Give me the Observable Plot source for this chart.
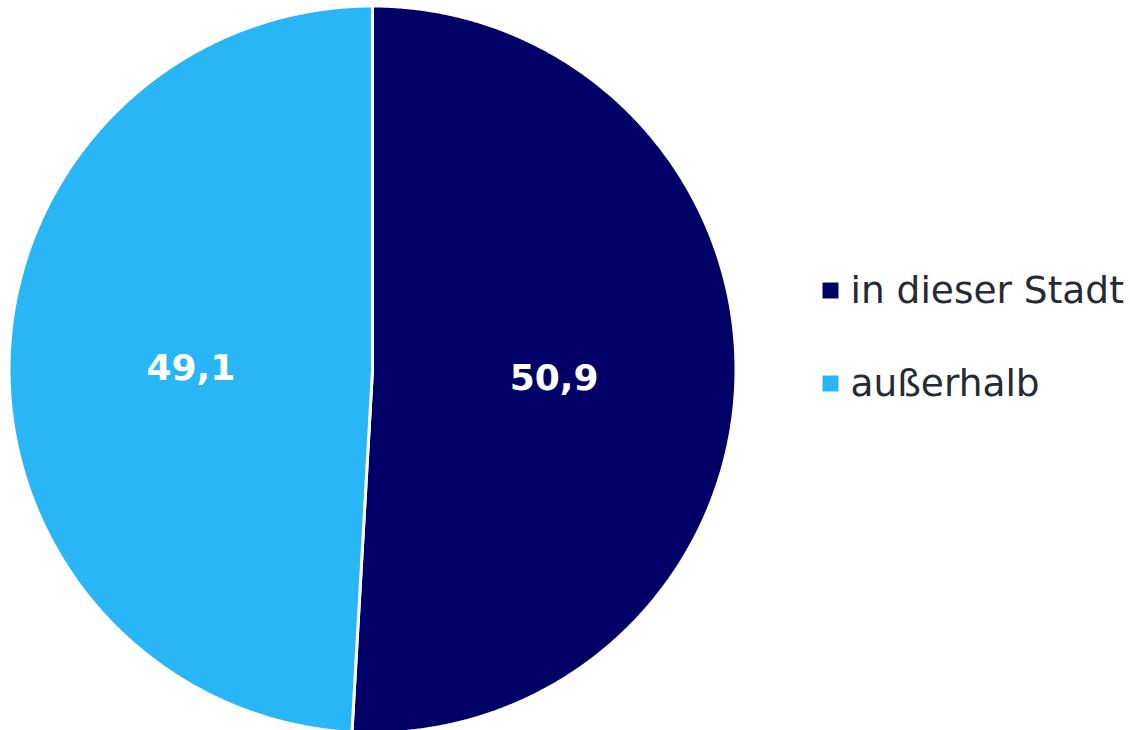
<!DOCTYPE html>
<html>
<head>
<meta charset="utf-8">
<script src="https://cdn.jsdelivr.net/npm/d3@7"></script>
<script src="https://cdn.jsdelivr.net/npm/@observablehq/plot@0.6"></script>
<style>
  html, body { margin: 0; padding: 0; background: #fff; }
  #chart svg { display: block; }
</style>
</head>
<body>
<div id="chart"></div>
<script>
// Data
const categories = ["in dieser Stadt", "außerhalb"];
const values = [50.9, 49.1];
const colors = ["#000066", "#29b6f6"];

// Layout constants (pixels)
const W = 1130, H = 730;
const CX = 372, CY = 369, R = 363.5;

// Pie geometry from data
const pie = d3.pie().sort(null).value(d => d.value).startAngle(0).endAngle(2 * Math.PI);
const arcs = pie(categories.map((c, i) => ({category: c, value: values[i]})));

// polygon points for each slice (angle clockwise from 12 o'clock)
const slicePts = [];
for (const a of arcs) {
  const cat = a.data.category;
  slicePts.push({category: cat, x: 0, y: 0});
  const n = Math.max(2, Math.ceil((a.endAngle - a.startAngle) / (Math.PI / 720)));
  for (let k = 0; k <= n; k++) {
    const t = a.startAngle + (a.endAngle - a.startAngle) * k / n;
    slicePts.push({category: cat, x: R * Math.sin(t), y: -R * Math.cos(t)});
  }
  slicePts.push({category: cat, x: 0, y: 0});
}

const labels = arcs.map(a => {
  const m = (a.startAngle + a.endAngle) / 2;
  return {
    category: a.data.category,
    text: a.data.value.toFixed(1).replace(".", ","),
    x: 0.5 * R * Math.sin(m),
    y: -0.5 * R * Math.cos(m)
  };
});

// legend rows
const legend = categories.map((c, i) => ({category: c, i}));
const LX = 830 - CX, LY0 = 290 - CY, LDY = 93, LTX = 850 - CX;

const chart = Plot.plot({
  width: W,
  height: H,
  margin: 0,
  x: {domain: [-CX, W - CX], range: [0, W], axis: null},
  y: {domain: [-CY, H - CY], range: [0, H], axis: null},
  color: {domain: categories, range: colors},
  style: {background: "#fff"},
  marks: [
    Plot.line(slicePts, {
      x: "x", y: "y", z: "category",
      fill: "category",
      stroke: "#ffffff",
      strokeWidth: 3,
      strokeLinejoin: "round",
      curve: "linear"
    }),
    Plot.text(labels, {
      x: "x", y: "y", text: "text",
      fill: "#ffffff",
      fontSize: 36,
      fontWeight: "bold",
      fontFamily: "DejaVu Sans, Verdana, sans-serif",
      dy: 4
    }),
    Plot.dot(legend, {
      x: () => LX,
      y: d => LY0 + d.i * LDY,
      symbol: "square",
      r: 9,
      fill: "category",
      stroke: null
    }),
    Plot.text(legend, {
      x: () => LTX,
      y: d => LY0 + d.i * LDY,
      text: "category",
      textAnchor: "start",
      fill: "#262a33",
      fontSize: 37.5,
      fontFamily: "DejaVu Sans, Verdana, sans-serif"
    })
  ]
});

document.getElementById("chart").appendChild(chart);
</script>
</body>
</html>
